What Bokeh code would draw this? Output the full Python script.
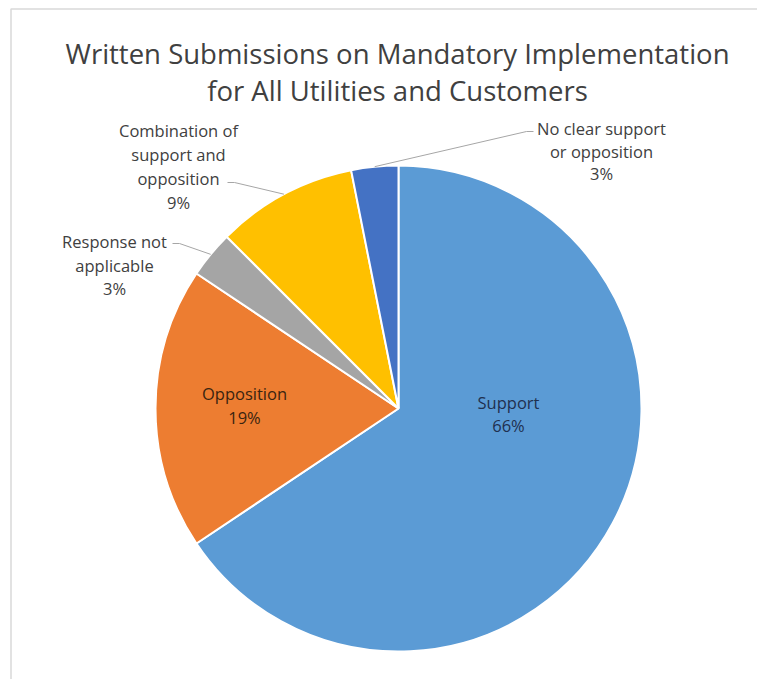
import math
from bokeh.plotting import figure
from bokeh.models import ColumnDataSource, Range1d
from bokeh.core.properties import value
from bokeh.embed import file_html
from bokeh.resources import INLINE

# ---- data ----
categories = ["Support", "Opposition", "Response not applicable",
              "Combination of support and opposition", "No clear support or opposition"]
counts = [21, 6, 1, 3, 1]
colors = ["#5B9BD5", "#ED7D31", "#A5A5A5", "#FFC000", "#4472C4"]
title_lines = ["Written Submissions on Mandatory Implementation",
               "for All Utilities and Customers"]
# how each category label is wrapped
label_wrap = [["Support"], ["Opposition"], ["Response not", "applicable"],
              ["Combination of", "support and", "opposition"],
              ["No clear support", "or opposition"]]

# ---- layout (pixels, measured from top-left) ----
W, H = 757, 679
CX, CY, R = 398, 408, 243
label_pos = [(508, 402, 23), (244, 393, 24), (114, 241, 23.5), (178, 130, 24), (601, 128, 22.5)]
label_color = ["#1F3050", "#3A2410", "#404040", "#404040", "#404040"]
leader_start = [None, None, (172, 243), (227, 182), (533, 131)]

def Y(y):
    return H - y

p = figure(width=W, height=H, x_range=Range1d(0, W), y_range=Range1d(0, H),
           output_backend="svg", toolbar_location=None, min_border=0)
p.axis.visible = False
p.grid.visible = False
p.outline_line_color = None
p.background_fill_color = "white"
p.border_fill_color = "white"

# frame
p.line([10.5, 10.5, W], [Y(H), Y(8.5), Y(8.5)], line_color="#d9d9d9", line_width=1.5)

total = sum(counts)
starts, ends, mids = [], [], []
cum = 0.0
for c in counts:
    f0 = cum / total
    cum += c
    f1 = cum / total
    starts.append(math.pi / 2 - 2 * math.pi * f0)
    ends.append(math.pi / 2 - 2 * math.pi * f1)
    mids.append(math.pi / 2 - 2 * math.pi * (f0 + f1) / 2)

src = ColumnDataSource(dict(start=starts, end=ends, color=colors, cat=categories, n=counts))
p.wedge(x=CX, y=Y(CY), radius=R, start_angle="start", end_angle="end",
        direction="clock", fill_color="color", line_color="white", line_width=2, source=src)

# leader lines
for i, st in enumerate(leader_start):
    if st is None:
        continue
    ex = CX + R * math.cos(mids[i])
    ey = Y(CY) + R * math.sin(mids[i])
    sx, sy = st
    stub = 7 if ex > sx else -7
    p.line([sx, sx + stub, ex], [Y(sy), Y(sy), ey], line_color="#A6A6A6", line_width=1)

# labels
for i, cat in enumerate(categories):
    pct = "%d%%" % round(100 * counts[i] / total)
    lines = label_wrap[i] + [pct]
    x0, y0, dy = label_pos[i]
    xs = [x0] * len(lines)
    ys = [Y(y0 + k * dy) for k in range(len(lines))]
    p.text(x=xs, y=ys, text=lines, text_font=value("Open Sans"),
           text_font_size=value("16.5px"), text_align="center", text_baseline="middle",
           text_color=label_color[i])

# title
p.text(x=[397, 397], y=[Y(53), Y(90)], text=title_lines, text_font=value("Open Sans"),
       text_font_size=value("27.5px"), text_align="center", text_baseline="alphabetic",
       text_color="#404040")

open("out.html", "w").write(file_html(p, INLINE))
